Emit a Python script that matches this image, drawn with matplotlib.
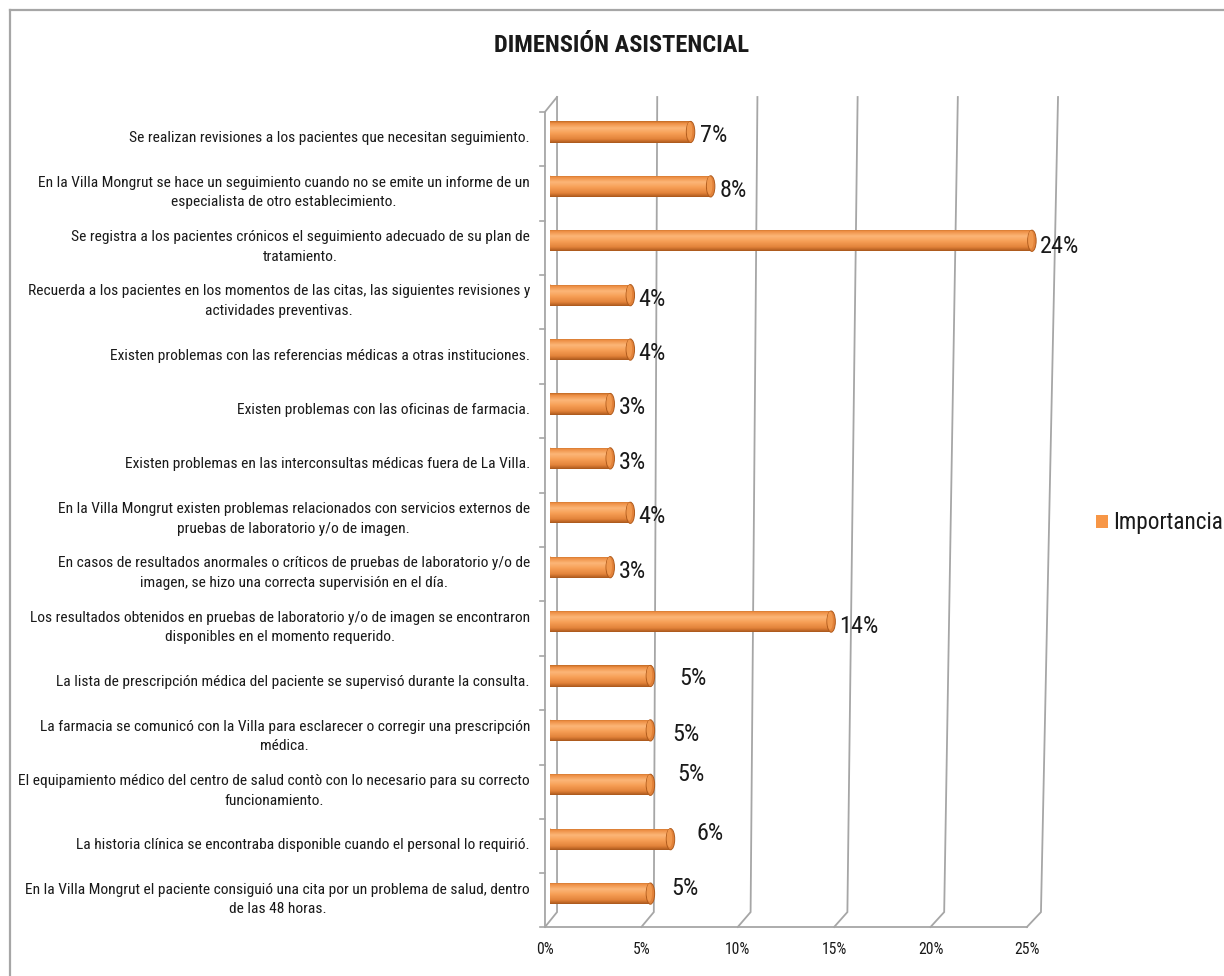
import numpy as np
import matplotlib
matplotlib.use("Agg")
import matplotlib.pyplot as plt
from matplotlib.patches import Rectangle, Ellipse, Patch
from matplotlib.lines import Line2D
from matplotlib.colors import LinearSegmentedColormap
from matplotlib import font_manager

# ---------------------------------------------------------------- data
categories = [
    "Se realizan revisiones a los pacientes que necesitan seguimiento.",
    "En la Villa Mongrut se hace un seguimiento cuando no se emite un informe de un\nespecialista de otro establecimiento.",
    "Se registra a los pacientes crónicos el seguimiento adecuado de su plan de\ntratamiento.",
    "Recuerda a los pacientes en los momentos de las citas, las siguientes revisiones y\nactividades preventivas.",
    "Existen problemas con las referencias médicas a otras instituciones.",
    "Existen problemas con las oficinas de farmacia.",
    "Existen problemas en las interconsultas médicas fuera de La Villa.",
    "En la Villa Mongrut existen problemas relacionados con servicios externos de\npruebas de laboratorio y/o de imagen.",
    "En casos de resultados anormales o críticos de pruebas de laboratorio y/o de\nimagen, se hizo una correcta supervisión en el día.",
    "Los resultados obtenidos en pruebas de laboratorio y/o de imagen se encontraron\ndisponibles en el momento requerido.",
    "La lista de prescripción médica del paciente se supervisó durante la consulta.",
    "La farmacia se comunicó con la Villa para esclarecer o corregir una prescripción\nmédica.",
    "El equipamiento médico del centro de salud contò con lo necesario para su correcto\nfuncionamiento.",
    "La historia clínica se encontraba disponible cuando el personal lo requirió.",
    "En la Villa Mongrut el paciente consiguió una cita por un problema de salud, dentro\nde las 48 horas.",
]
importancia = [7, 8, 24, 4, 4, 3, 3, 4, 3, 14, 5, 5, 5, 6, 5]
x_ticks = [0, 5, 10, 15, 20, 25]
series_name = "Importancia"
title = "DIMENSIÓN ASISTENCIAL"

# hand-placed data-label nudges (pixels: right, down)
label_nudge = [(5, 4), (5, 4), (4, 6), (4, 4), (4, 4), (4, 4), (4, 4), (4, 4),
               (4, 4), (4, 5), (25, 3), (18, 4), (23, -10), (22, -6), (17, -5)]

# ---------------------------------------------------------------- font
installed = {f.name for f in font_manager.fontManager.ttflist}
family = "Liberation Sans"
stretch = "normal"
for name in ["Liberation Sans Narrow", "Roboto Condensed", "Noto Sans Condensed",
             "Open Sans Condensed", "Noto Sans SemiCondensed"]:
    if name in installed:
        family = name
        break
else:
    # a condensed face registered under a regular family name
    for f in font_manager.fontManager.ttflist:
        st = f.stretch if isinstance(f.stretch, int) else font_manager.stretch_dict.get(f.stretch, 500)
        if f.name in ("Noto Sans", "Roboto", "Open Sans") and st < 500 and f.style == "normal":
            family, stretch = f.name, "condensed"
            break
plt.rcParams["font.family"] = [family, "DejaVu Sans"]
plt.rcParams["font.stretch"] = stretch

W, H, DPI = 1224, 976, 100
fig = plt.figure(figsize=(W / DPI, H / DPI), dpi=DPI)
fig.patch.set_facecolor("white")
renderer = fig.canvas.get_renderer()


def fit_size(s, target_px, weight="normal", base=10.0):
    """Font size (pt) that makes string s span target_px pixels."""
    t = fig.text(0, 0, s, fontsize=base, fontweight=weight)
    w = t.get_window_extent(renderer).width
    t.remove()
    return base * target_px / w


cat_size = fit_size(categories[0], 397)
title_size = fit_size(title, 255, weight="bold")
value_size = fit_size("24%", 39)
legend_size = fit_size(series_name, 109)
tick_size = fit_size("10%", 25)

GRID = "#a6a6a6"
TEXT = "#1a1a1a"

# chart-area border (top and left edges)
fig.add_artist(Line2D([10 / W, 1], [1 - 10 / H, 1 - 10 / H], color=GRID, lw=1.6,
                      transform=fig.transFigure))
fig.add_artist(Line2D([10 / W, 10 / W], [0, 1 - 10 / H], color=GRID, lw=1.6,
                      transform=fig.transFigure))

# ---------------------------------------------------------------- plot area
y_top, y_front = -0.643, 14.614
ax = fig.add_axes([550 / W, 1 - 927 / H, 502 / W, 830 / H])
ax.set_xlim(0, 25)
ax.set_ylim(y_front, y_top)
ax.axis("off")

n = len(categories)
rows = np.arange(n)

# 3-D frame geometry (x of 0% and 25% on each plane, in data units)
front_x = (-0.25, 23.75)
back_bottom_x = (0.35, 24.45)
back_top_x = (0.35, 25.30)
y_back_bottom = 14.34
y_wall_top = -0.37


def lerp(pair, v):
    return pair[0] + (pair[1] - pair[0]) * v / 25.0


for v in x_ticks:
    xb_top, xb_bot, xf = lerp(back_top_x, v), lerp(back_bottom_x, v), lerp(front_x, v)
    ax.plot([xb_top, xb_bot, xf], [y_top, y_back_bottom, y_front], color=GRID,
            lw=1.3, zorder=1, clip_on=False, solid_joinstyle="miter")

# left wall edge, floor edge and ticks
ax.plot([lerp(back_top_x, 0), front_x[0], front_x[0]], [y_top, y_wall_top, y_front],
        color=GRID, lw=1.3, zorder=1, clip_on=False)
ax.plot([front_x[0], front_x[1]], [y_front, y_front], color=GRID, lw=1.3,
        zorder=1, clip_on=False)
for k in range(n + 1):
    yk = min(y_wall_top + k, y_front)
    ax.plot([front_x[0] - 0.25, front_x[0]], [yk, yk], color=GRID, lw=1.2,
            zorder=1, clip_on=False)

# ---------------------------------------------------------------- cylinders
shade = LinearSegmentedColormap.from_list(
    "cyl",
    [(0.0, "#c06823"), (0.10, "#ee8f44"), (0.32, "#fcb678"), (0.55, "#f7a057"),
     (0.82, "#e3833a"), (1.0, "#a8561b")])
grad = np.linspace(0, 1, 128).reshape(-1, 1)

half_h = 0.195
cap_w = 0.42

for i, v in zip(rows, importancia):
    # rounded back end
    left_end = Ellipse((0, i), cap_w, 2 * half_h, facecolor="none", edgecolor="none")
    ax.add_patch(left_end)
    im = ax.imshow(grad, cmap=shade, aspect="auto", origin="upper",
                   extent=(-cap_w / 2, cap_w / 2, i + half_h, i - half_h),
                   zorder=3, interpolation="bilinear")
    im.set_clip_path(left_end)
    # body
    body = Rectangle((0, i - half_h), v, 2 * half_h, facecolor="none", edgecolor="none")
    ax.add_patch(body)
    im = ax.imshow(grad, cmap=shade, aspect="auto", origin="upper",
                   extent=(0, v, i + half_h, i - half_h), zorder=4,
                   interpolation="bilinear")
    im.set_clip_path(body)
    # front cap
    ax.add_patch(Ellipse((v, i), cap_w, 2 * half_h, facecolor="#e2823a",
                         edgecolor="#b05b1c", lw=0.7, zorder=5))
    ax.add_patch(Ellipse((v - 0.05, i - 0.02), cap_w * 0.65, 2 * half_h * 0.85,
                         facecolor="#f0984e", edgecolor="none", zorder=5))

# value labels
for i, v in zip(rows, importancia):
    dx, dy = label_nudge[i]
    ax.annotate(f"{v}%", xy=(v + cap_w / 2, i), xytext=(dx, -dy),
                textcoords="offset pixels", ha="left", va="center",
                fontsize=value_size, color=TEXT, zorder=6, annotation_clip=False)

# category labels
for i, lab in zip(rows, categories):
    ax.text(-1.0, i + 0.11, lab, ha="right", va="center", multialignment="center",
            fontsize=cat_size, color=TEXT, linespacing=1.5, clip_on=False)

# ---------------------------------------------------------------- front value axis
axf = fig.add_axes([545 / W, 1 - 927 / H, 482 / W, 0.001])
axf.set_xlim(0, 25)
axf.set_xticks(x_ticks)
axf.set_xticklabels([f"{t}%" for t in x_ticks])
axf.set_yticks([])
for s in axf.spines.values():
    s.set_visible(False)
axf.patch.set_alpha(0)
axf.tick_params(axis="x", length=0, pad=10.5, labelsize=tick_size, labelcolor=TEXT)

# ---------------------------------------------------------------- title & legend
fig.text(622 / W, 1 - 45 / H, title, ha="center", va="center", fontsize=title_size,
         fontweight="bold", color=TEXT)

fig.legend(handles=[Patch(facecolor="#f79646", edgecolor="none", label=series_name)],
           loc="center left", bbox_to_anchor=(1096 / W, 1 - 523 / H),
           frameon=False, fontsize=legend_size, handlelength=0.5, handleheight=0.5,
           handletextpad=0.25, borderaxespad=0, borderpad=0, labelcolor=TEXT)

fig.savefig("out.png", dpi=DPI, facecolor="white")
